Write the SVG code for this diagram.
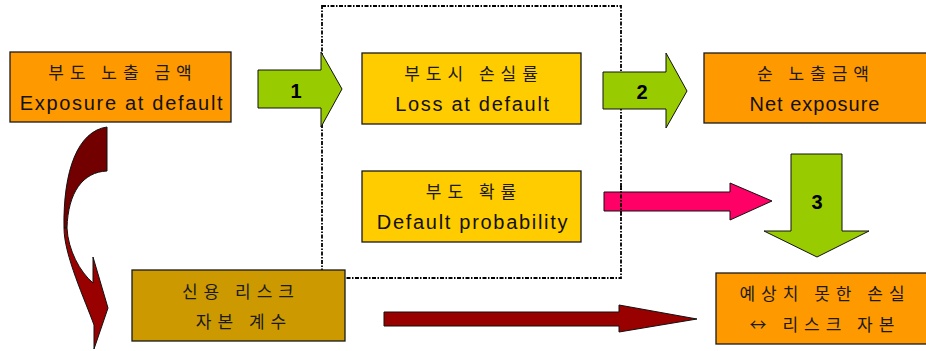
<svg xmlns="http://www.w3.org/2000/svg" width="926" height="351" viewBox="0 0 926 351">
<style>
.box{stroke:#1a1a1a;stroke-width:1.3}
.orange{fill:#FF9900}
.yellow{fill:#FFCC00}
.mustard{fill:#CC9900}
.arr{stroke:#111;stroke-width:1}
.green{fill:#99CC00}
.ko{font-family:"Noto Sans CJK KR","Noto Sans",sans-serif;font-size:17px;fill:#1a1a1a;text-anchor:middle;letter-spacing:6px}
.en{font-family:"Liberation Sans",Arial,sans-serif;font-size:20px;fill:#111;text-anchor:middle;letter-spacing:1.7px}
.num{font-family:"Liberation Sans",Arial,sans-serif;font-size:20px;font-weight:bold;fill:#000;text-anchor:middle}
.frame{fill:none;stroke:#000;stroke-width:1.8;stroke-dasharray:4 1.5 1.5 1.5}
</style>
<g id="frame">
  <rect class="frame" x="322" y="6" width="299" height="272"/>
</g>
<g id="connectors">
  <g id="arrow1">
    <path class="arr green" d="M258,70 L321,70 L321,52 L342,89 L321,127 L321,108 L258,108 Z"/>
    <text class="num" x="296" y="98">1</text>
  </g>
  <g id="arrow2">
    <path class="arr green" d="M603,72 L666,72 L666,53 L687,91 L666,128 L666,109 L603,109 Z"/>
    <text class="num" x="642" y="99">2</text>
  </g>
  <g id="arrow3">
    <path class="arr green" d="M791,154 L842,154 L842,231 L869,231 L817,257 L764,231 L791,231 Z"/>
    <text class="num" x="817" y="209">3</text>
  </g>
  <path id="arrow-pink" class="arr" fill="#FF0066" d="M604,192 L730,192 L730,183 L772,201 L730,220 L730,211 L604,211 Z"/>
  <path id="arrow-darkred" class="arr" fill="#990000" d="M384,312 L619,312 L619,305 L697,319 L619,332 L619,326 L384,326 Z"/>
  <g id="arrow-curved">
    <path class="arr" fill="#720000" d="M107,127 C78,131 63,170 64,228 L67,228 C68,192 83,172 107,171 Z"/>
    <path class="arr" fill="#990000" d="M64,228 C64,255 85,300 94,325 L94,349 L108,308 L93,257 L93,283 C80,272 68,250 67,228 Z"/>
  </g>
</g>
<line class="frame" x1="621" y1="186" x2="621" y2="217"/>
<g id="exposure">
  <rect class="box orange" x="10" y="52" width="221" height="70"/>
  <text class="ko" x="123" y="79">부도 노출 금액</text>
  <text class="en" x="122" y="110">Exposure at default</text>
</g>
<g id="lgd">
  <rect class="box yellow" x="362" y="53" width="219" height="71"/>
  <text class="ko" x="474" y="80">부도시 손실률</text>
  <text class="en" x="473" y="111">Loss at default</text>
</g>
<g id="net">
  <rect class="box orange" x="704" y="53" width="226" height="70"/>
  <text class="ko" x="816" y="80">순 노출금액</text>
  <text class="en" x="815" y="111" style="letter-spacing:1px">Net exposure</text>
</g>
<g id="pd">
  <rect class="box yellow" x="362" y="171" width="219" height="71"/>
  <text class="ko" x="474" y="198">부도 확률</text>
  <text class="en" x="473" y="229">Default probability</text>
</g>
<g id="credit">
  <rect class="box mustard" x="132" y="270" width="213" height="71"/>
  <text class="ko" x="241" y="298">신용 리스크</text>
  <text class="ko" x="244" y="328">자본 계수</text>
</g>
<g id="unexpected">
  <rect class="box orange" x="716" y="273" width="215" height="71"/>
  <text class="ko" x="825" y="300">예상치 못한 손실</text>
  <text class="ko" x="825" y="331">↔ 리스크 자본</text>
</g>
</svg>
